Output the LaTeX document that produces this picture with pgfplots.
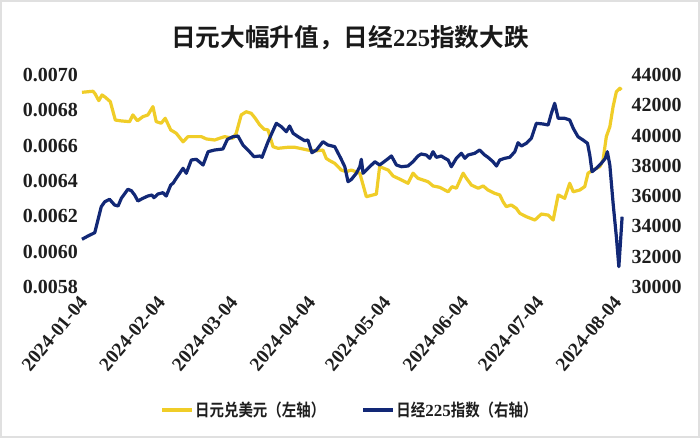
\documentclass[border=0pt]{standalone}
\usepackage{pgfplots}
\pgfplotsset{compat=1.18}
\usepackage{fontspec}
\setmainfont{Liberation Serif}
\newfontfamily\latb{Liberation Serif}[UprightFont=* Bold]
\newfontfamily\latn{Liberation Serif}[UprightFont=* Bold]
\newfontfamily\cjkb{Noto Sans CJK SC}[UprightFont=* Bold, FakeStretch=0.85]
\newfontfamily\cjkt{Noto Sans CJK SC}[UprightFont=* Bold]
\definecolor{yen}{RGB}{240,205,40}
\definecolor{nk}{RGB}{18,40,118}
\definecolor{lab}{RGB}{30,30,30}

\pgfplotsset{
  common/.style={
    at={(59.6pt,113.25pt)}, anchor=south west,
    scale only axis, width=410pt, height=159pt,
    xmin=-1, xmax=217,
    axis line style={draw=none}, major tick length=0pt,
    scaled y ticks=false,
    tick label style={text=lab},
  },
}

\begin{document}
\begin{tikzpicture}
\useasboundingbox (0,0) rectangle (525pt,328.5pt);
\fill[white] (0,0) rectangle (525pt,328.5pt);
\draw[black!12, line width=1.5pt] (0.75pt,0.75pt) rectangle (524.25pt,327.75pt);

\node[font=\cjkt\fontsize{18.5}{21}\selectfont, text=black!90] at (262.5pt,300pt)
  {日元大幅升值，日经{\latn 225}指数大跌};

% left axis: yen per dollar
\begin{axis}[common,
  ymin=0.0058, ymax=0.0070,
  ytick={0.0058,0.006,0.0062,0.0064,0.0066,0.0068,0.007},
  yticklabel style={font=\latb\fontsize{15}{15}\selectfont, anchor=east, inner sep=0pt, xshift=-1pt,
    /pgf/number format/fixed, /pgf/number format/fixed zerofill,
    /pgf/number format/precision=4, /pgf/number format/assume math mode=true},
  xtick={0,31,60,91,121,152,182,213},
  xticklabels={2024-01-04,2024-02-04,2024-03-04,2024-04-04,2024-05-04,2024-06-04,2024-07-04,2024-08-04},
  xticklabel style={font=\latn\fontsize{14.5}{14.5}\selectfont, rotate=50, anchor=north east,
    inner sep=0pt, xshift=-6pt, yshift=-1.5pt},
]
\addplot[yen, line width=2.4pt, line join=round] coordinates {
(0,0.006902)(4.4,0.006908)(5.3,0.006892)(6.7,0.006855)(8.0,0.006887)(9.3,0.006874)
(11.3,0.006849)(13.3,0.006745)(15.7,0.006740)(19.0,0.006736)(20.3,0.006774)(22.1,0.006741)
(24.3,0.006764)(26.3,0.006774)(28.3,0.006821)(29.6,0.006736)(31.6,0.006727)(33.2,0.006755)
(35.4,0.006689)(37.6,0.006670)(40.3,0.006622)(42.3,0.006651)(45.0,0.006651)(47.6,0.006651)
(49.6,0.006638)(52.9,0.006632)(54.9,0.006642)(56.9,0.006651)(60.2,0.006642)(61.5,0.006670)
(63.5,0.006774)(65.5,0.006792)(67.5,0.006783)(69.1,0.006755)(70.9,0.006717)(72.6,0.006693)
(74.2,0.006689)(76.2,0.006594)(78.2,0.006585)(82.2,0.006591)(84.8,0.006591)(87.5,0.006583)
(90.1,0.006575)(93.5,0.006571)(96.1,0.006575)(97.4,0.006528)(98.8,0.006515)(100.8,0.006500)
(103.4,0.006462)(105.4,0.006453)(107.4,0.006462)(110.8,0.006444)(113.4,0.006311)(117.4,0.006326)
(118.7,0.006481)(122.1,0.006462)(124.1,0.006428)(127.4,0.006406)(130.0,0.006387)(132.0,0.006444)
(134.0,0.006415)(138.0,0.006396)(140.0,0.006372)(142.7,0.006364)(146.0,0.006339)(147.6,0.006368)
(149.3,0.006359)(152.0,0.006444)(153.3,0.006415)(155.3,0.006377)(158.0,0.006359)(160.0,0.006372)
(161.9,0.006349)(164.6,0.006330)(166.6,0.006321)(167.9,0.006283)(169.2,0.006255)(171.2,0.006264)
(173.2,0.006245)(174.6,0.006217)(177.2,0.006198)(180.6,0.006179)(183.2,0.006213)(185.9,0.006207)
(187.9,0.006179)(189.9,0.006321)(192.5,0.006302)(194.5,0.006387)(195.9,0.006339)(198.5,0.006349)
(200.5,0.006368)(201.8,0.006444)(203.8,0.006462)(206.5,0.006481)(207.8,0.006519)(209.1,0.006651)
(210.5,0.006707)(211.8,0.006821)(213.1,0.006905)(214.5,0.006925)(215.1,0.006915)
};
\end{axis}

% right axis: Nikkei 225
\begin{axis}[common,
  ymin=30000, ymax=44000,
  ytick={30000,32000,34000,36000,38000,40000,42000,44000},
  yticklabel pos=right,
  yticklabel style={font=\latb\fontsize{15}{15}\selectfont, anchor=west, inner sep=0pt, xshift=4pt,
    /pgf/number format/1000 sep={}, /pgf/number format/assume math mode=true},
  xtick=\empty,
  legend columns=2,
  legend style={draw=none, fill=none, at={(0.495,-0.58)}, anchor=center,
    font=\cjkb\fontsize{12.75}{14}\selectfont, text=lab,
    nodes={inner sep=1.5pt},
    /tikz/every even column/.append style={column sep=26pt}},
  legend image code/.code={\draw[#1] (0pt,0pt) -- (22pt,0pt);},
]
\addlegendimage{yen, line width=2.4pt}
\addlegendentry{日元兑美元（左轴）}
\addplot[nk, line width=2.4pt, line join=round] coordinates {
(0,33150)(2.4,33368)(5.1,33586)(7.7,35303)(9.1,35633)(11.0,35791)(13.0,35415)(14.4,35349)
(15.7,35857)(18.3,36452)(19.7,36359)(21.0,36075)(22.3,35679)(24.3,35857)(26.3,36009)(27.9,36075)
(28.7,35897)(30.3,36141)(32.3,36227)(33.6,36009)(35.4,36736)(36.3,36848)(37.6,37178)(40.3,37838)
(41.6,37508)(43.6,38387)(45.6,38433)(48.3,38056)(50.3,38935)(52.9,39047)(56.2,39113)(58.0,39754)
(60.2,39925)(62.2,39972)(64.2,39377)(66.2,39047)(68.6,38605)(70.9,38651)(71.8,38565)(74.2,39595)
(77.5,40810)(79.5,40586)(81.5,40256)(82.8,40632)(84.2,40150)(86.2,39925)(88.8,39661)(90.1,39707)
(91.7,38869)(93.5,39047)(96.1,39595)(98.1,39377)(100.8,39265)(103.2,38499)(104.8,37944)(106.1,36953)
(107.4,37100)(109.4,37508)(110.8,37944)(111.4,38433)(112.1,37508)(114.1,37838)(116.8,38274)(118.7,38056)
(121.4,38387)(123.4,38651)(125.4,38056)(127.4,37944)(130.0,37990)(132.0,38274)(134.0,38651)(135.3,38783)
(137.3,38717)(138.7,38499)(140.0,38935)(141.3,38565)(143.3,38651)(144.7,38499)(146.0,38387)(147.3,37944)
(149.3,38499)(151.3,38829)(152.7,38499)(154.0,38717)(156.6,38829)(158.6,39047)(160.6,38717)(161.9,38565)
(163.9,38274)(165.3,37990)(166.6,38387)(168.6,38499)(170.6,38565)(172.6,38935)(173.9,39529)(175.2,39311)
(177.2,39489)(179.2,39820)(181.2,40810)(183.9,40764)(185.9,40698)(187.2,41471)(188.5,42131)(189.9,41140)
(192.5,41140)(194.5,41028)(195.9,40480)(197.8,39925)(199.8,39707)(201.6,39489)(202.5,38717)(203.4,37614)
(205.1,37838)(207.1,38169)(208.7,38499)(209.5,38935)(210.5,38056)(211.8,35527)(213.1,33321)(214.1,31340)
(215.4,34642)
};
\addlegendentry{日经{\latn 225}指数（右轴）}
\end{axis}
\end{tikzpicture}
\end{document}
